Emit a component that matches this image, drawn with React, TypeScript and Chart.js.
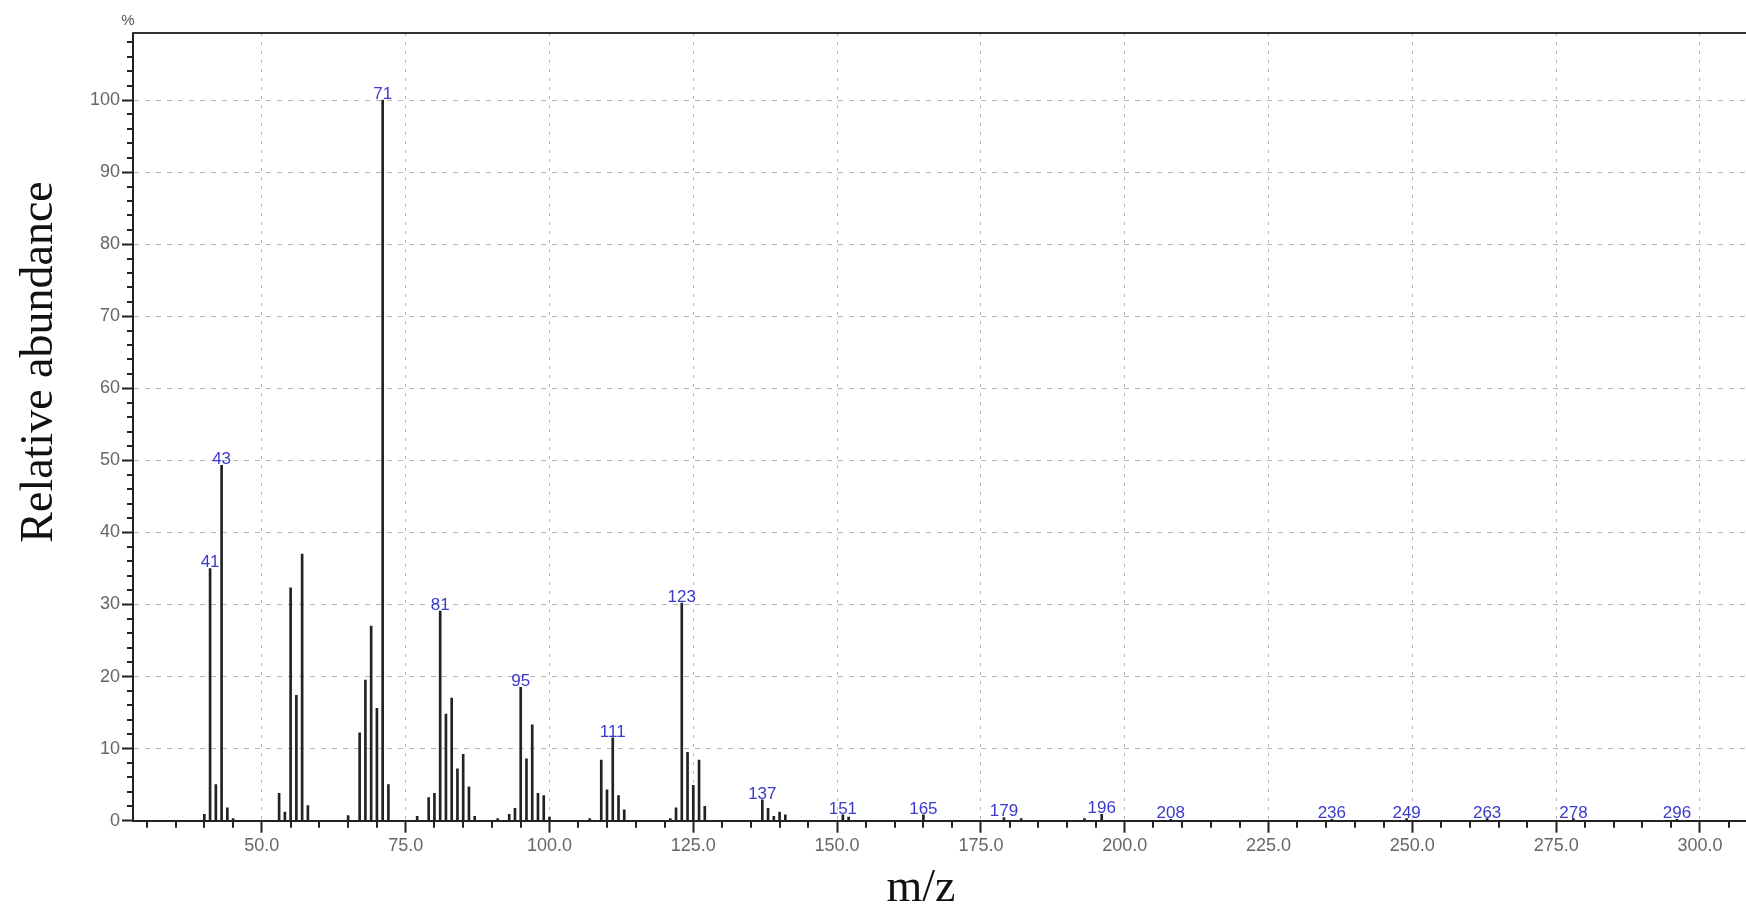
import { useEffect, useRef } from "react";
import { Chart, registerables } from "chart.js";

Chart.register(...registerables);

// m/z of each peak
const mzValues = [
  40, 41, 42, 43, 44, 45, 53, 54, 55, 56, 57, 58, 65, 67, 68, 69, 70, 71, 72, 77,
  79, 80, 81, 82, 83, 84, 85, 86, 87, 91, 93, 94, 95, 96, 97, 98, 99, 100, 107, 109,
  110, 111, 112, 113, 121, 122, 123, 124, 125, 126, 127, 137, 138, 139, 140, 141, 151, 152, 165, 179,
  182, 193, 196, 208, 236, 249, 263, 278, 296,
];

// relative abundance (%) of each peak
const abundances = [
  0.9, 35.0, 5.0, 49.3, 1.8, 0.3, 3.8, 1.2, 32.3, 17.4, 37.0, 2.1, 0.7, 12.2, 19.5, 27.0, 15.6, 100, 5.0, 0.6,
  3.2, 3.8, 29.1, 14.8, 17.0, 7.2, 9.2, 4.7, 0.6, 0.3, 0.9, 1.7, 18.5, 8.6, 13.3, 3.8, 3.5, 0.5, 0.3, 8.4,
  4.3, 11.5, 3.5, 1.5, 0.3, 1.8, 30.2, 9.5, 4.9, 8.4, 2.0, 2.9, 1.7, 0.6, 1.2, 0.8, 0.8, 0.5, 0.8, 0.45,
  0.3, 0.3, 0.9, 0.2, 0.2, 0.3, 0.3, 0.3, 0.2,
];

// peaks annotated with their m/z
const labeledPeaks = [41, 43, 71, 81, 95, 111, 123, 137, 151, 165, 179, 196, 208, 236, 249, 263, 278, 296];

const xMajorTicks = [50, 75, 100, 125, 150, 175, 200, 225, 250, 275, 300];
const xMinorTicks = [
  30, 35, 40, 45, 55, 60, 65, 70, 80, 85, 90, 95, 105, 110, 115, 120, 130, 135, 140, 145,
  155, 160, 165, 170, 180, 185, 190, 195, 205, 210, 215, 220, 230, 235, 240, 245, 255, 260, 265, 270,
  280, 285, 290, 295, 305,
];
const yMajorTicks = [0, 10, 20, 30, 40, 50, 60, 70, 80, 90, 100];
const yMinorTicks = [
  2, 4, 6, 8, 12, 14, 16, 18, 22, 24, 26, 28, 32, 34, 36, 38, 42, 44, 46, 48,
  52, 54, 56, 58, 62, 64, 66, 68, 72, 74, 76, 78, 82, 84, 86, 88, 92, 94, 96, 98,
  102, 104, 106, 108,
];

const xTitle = "m/z";
const yTitle = "Relative abundance";
const yUnit = "%";

const W = 1746;
const H = 907;

const decorPlugin = {
  id: "decor",
  afterDatasetsDraw(chart: any) {
    const { ctx, chartArea, scales } = chart;
    const xs = scales.x;
    const ys = scales.y;
    ctx.save();
    // top frame line
    ctx.strokeStyle = "#333";
    ctx.lineWidth = 2;
    ctx.beginPath();
    ctx.moveTo(chartArea.left - 1, chartArea.top);
    ctx.lineTo(chartArea.right, chartArea.top);
    ctx.stroke();

    // minor ticks
    ctx.strokeStyle = "#222";
    ctx.lineWidth = 2;
    ctx.beginPath();
    yMinorTicks.forEach((v) => {
      const py = Math.round(ys.getPixelForValue(v));
      ctx.moveTo(chartArea.left - 6, py);
      ctx.lineTo(chartArea.left, py);
    });
    xMinorTicks.forEach((v) => {
      const px = Math.round(xs.getPixelForValue(v));
      ctx.moveTo(px, chartArea.bottom);
      ctx.lineTo(px, chartArea.bottom + 7);
    });
    ctx.stroke();

    // peak labels
    const meta = chart.getDatasetMeta(0);
    ctx.fillStyle = "#3a3acc";
    ctx.font = '17px "Liberation Sans", Arial, sans-serif';
    ctx.textAlign = "center";
    ctx.textBaseline = "alphabetic";
    labeledPeaks.forEach((m) => {
      const i = mzValues.indexOf(m);
      if (i < 0) return;
      const el = meta.data[i];
      ctx.fillText(String(m), el.x, el.y - 1);
    });

    // unit label
    ctx.fillStyle = "#555";
    ctx.font = '15px "Liberation Sans", Arial, sans-serif';
    ctx.textBaseline = "middle";
    ctx.fillText(yUnit, chartArea.left - 5, 21);

    // axis titles
    ctx.fillStyle = "#111";
    ctx.font = '46px "Liberation Serif", "Times New Roman", serif';
    ctx.textBaseline = "alphabetic";
    ctx.textAlign = "center";
    ctx.fillText(xTitle, 921, 901);
    ctx.save();
    ctx.translate(52, 362);
    ctx.rotate(-Math.PI / 2);
    ctx.fillText(yTitle, 0, 0);
    ctx.restore();

    ctx.restore();
  },
};

export default function App() {
  const ref = useRef<HTMLCanvasElement | null>(null);

  useEffect(() => {
    if (!ref.current) return;
    const chart = new Chart(ref.current, {
      type: "bar",
      data: {
        datasets: [
          {
            data: mzValues.map((m, i) => ({ x: m, y: abundances[i] })),
            backgroundColor: "#222",
            borderWidth: 0,
            barThickness: 2,
          },
        ],
      },
      options: {
        animation: false,
        responsive: false,
        devicePixelRatio: 1,
        layout: { padding: { top: 33, right: 0, left: 0, bottom: 0 } },
        plugins: {
          legend: { display: false },
          tooltip: { enabled: false },
        },
        scales: {
          x: {
            type: "linear",
            offset: false,
            min: 27.6,
            max: 308,
            afterBuildTicks: (s: any) => {
              s.ticks = xMajorTicks.map((v) => ({ value: v }));
            },
            afterFit: (s: any) => {
              s.height = 86.3;
            },
            ticks: {
              callback: (v: any) => Number(v).toFixed(1),
              color: "#666",
              font: { family: '"Liberation Sans", Arial, sans-serif', size: 18 },
              padding: 3,
              maxRotation: 0,
              autoSkip: false,
            },
            grid: {
              offset: false,
              color: "#b4b4b4",
              lineWidth: 1,
              tickLength: 12,
              tickColor: "#222",
              tickWidth: 2,
            },
            border: { display: true, color: "#222", width: 2, dash: [3, 6] },
          },
          y: {
            type: "linear",
            min: 0,
            max: 109.3,
            afterBuildTicks: (s: any) => {
              s.ticks = yMajorTicks.map((v) => ({ value: v }));
            },
            afterFit: (s: any) => {
              s.width = 133;
            },
            ticks: {
              callback: (v: any) => String(v),
              color: "#666",
              font: { family: '"Liberation Sans", Arial, sans-serif', size: 18 },
              padding: 2,
              autoSkip: false,
            },
            grid: {
              color: "#b4b4b4",
              lineWidth: 1,
              tickLength: 11,
              tickColor: "#222",
              tickWidth: 2,
            },
            border: { display: true, color: "#222", width: 2, dash: [5, 6] },
          },
        },
      },
      plugins: [decorPlugin],
    } as any);
    return () => chart.destroy();
  }, []);

  return (
    <div style={{ position: "absolute", left: 0, top: 0, width: W, height: H, background: "#fff" }}>
      <canvas ref={ref} width={W} height={H} style={{ width: W, height: H, display: "block" }} />
    </div>
  );
}
